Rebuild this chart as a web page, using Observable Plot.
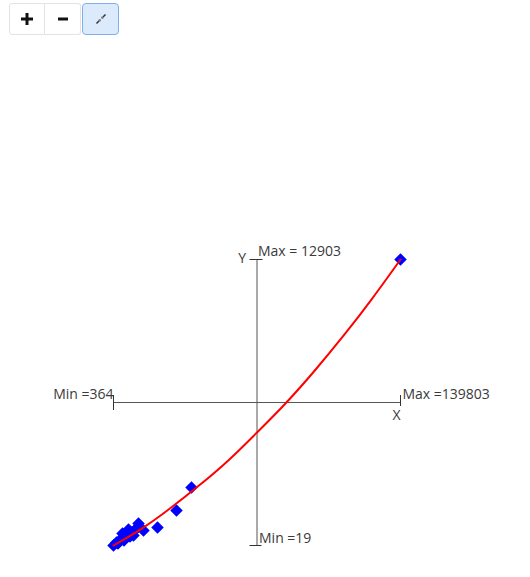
<!DOCTYPE html>
<html>
<head>
<meta charset="utf-8">
<script src="https://cdn.jsdelivr.net/npm/d3@7"></script>
<script src="https://cdn.jsdelivr.net/npm/@observablehq/plot@0.6"></script>
<style>
  html, body { margin: 0; padding: 0; background: #fff; }
  body { width: 530px; height: 577px; position: relative; overflow: hidden; font-family: "Open Sans", "Noto Sans", sans-serif; }
  #chart { position: absolute; left: 0; top: 0; }
  #toolbar { position: absolute; left: 9px; top: 3px; display: flex; }
  #toolbar .b { width: 36px; height: 32px; box-sizing: border-box; display: flex; align-items: center; justify-content: center; background: #fff; border: 1px solid #e3e3e3; font-size: 20px; font-weight: bold; color: #111; }
  #toolbar .b1 { border-radius: 3px 0 0 3px; }
  #toolbar .b2 { border-left: none; border-radius: 0 3px 3px 0; }
  #toolbar .b3 { margin-left: 1px; width: 37px; height: 32px; background: #dcebfc; border: 1.5px solid #7fb0ee; border-radius: 4px; }
</style>
</head>
<body>
<div id="toolbar">
  <div class="b b1"><svg width="14" height="14" viewBox="0 0 14 14"><path d="M7 1V13M1 7H13" stroke="#111" stroke-width="3"/></svg></div>
  <div class="b b2"><svg width="14" height="14" viewBox="0 0 14 14"><path d="M2 7H12" stroke="#111" stroke-width="3"/></svg></div>
  <div class="b b3"><svg width="14" height="14" viewBox="0 0 14 14"><path d="M2.5 11.5L5.2 8.8M8.8 5.2L11.5 2.5" stroke="#333" stroke-width="1.5"/><path d="M6.6 7.4L4.4 7.4L6.6 9.6Z M7.4 6.6L9.6 6.6L7.4 4.4Z" fill="#333"/></svg></div>
</div>
<div id="chart"></div>
<script>
// Range extremes shown as axis labels
const xMin = 364, xMax = 139803;
const yMin = 19, yMax = 12903;

// Scatter points
const pointX = [364, 1820, 2550, 3280, 4740, 4740, 5460, 6190, 7650, 7650, 8380, 9110, 10080, 10570, 12020, 12510, 14940, 21740, 30970, 38260, 139803];
const pointY = [19, 154, 110, 244, 334, 560, 245, 424, 515, 740, 420, 605, 470, 695, 830, 1010, 695, 830, 1596, 2632, 12903];

// Trend curve samples
const trendX = [364, 14310, 28250, 42200, 56140, 70080, 84030, 97970, 111920, 125860, 139803];
const trendY = [19, 790, 1716, 2740, 3852, 5110, 6429, 7880, 9446, 11120, 12903];

const points = pointX.map((x, i) => ({x, y: pointY[i]}));
const trend = trendX.map((x, i) => ({x, y: trendY[i]}));
const xMid = (xMin + xMax) / 2, yMid = (yMin + yMax) / 2;

const textColor = "#3a3a3a", axisColor = "#555";
const font = {fontSize: 14, fill: textColor, fontFamily: "'Open Sans', 'Noto Sans', sans-serif"};

const chart = Plot.plot({
  width: 530, height: 577,
  marginLeft: 113, marginRight: 130, marginTop: 259, marginBottom: 32,
  x: {domain: [xMin, xMax], axis: null},
  y: {domain: [yMin, yMax], axis: null},
  style: {background: "transparent", overflow: "visible"},
  marks: [
    // Axis lines crossing at the centre
    Plot.ruleY([yMid], {x1: xMin, x2: xMax, stroke: axisColor, strokeWidth: 1}),
    Plot.ruleX([xMid], {y1: yMin, y2: yMax, stroke: axisColor, strokeWidth: 1}),
    // End ticks
    Plot.ruleX([xMin], {y1: yMid, y2: yMid, insetTop: -7, insetBottom: -8, stroke: "#333", strokeWidth: 1}),
    Plot.ruleX([xMax], {y1: yMid, y2: yMid, insetTop: -7, insetBottom: -4, stroke: "#333", strokeWidth: 1}),
    Plot.ruleY([yMax], {x1: xMid, x2: xMid, insetLeft: -7, insetRight: -6, stroke: "#333", strokeWidth: 1}),
    Plot.ruleY([yMin], {x1: xMid, x2: xMid, insetLeft: -7, insetRight: -5, stroke: "#333", strokeWidth: 1}),
    // Labels
    Plot.text([{x: xMin, y: yMid, t: `Min =${xMin}`}], {x: "x", y: "y", text: "t", textAnchor: "end", dx: 0, dy: -8, ...font}),
    Plot.text([{x: xMax, y: yMid, t: `Max =${xMax}`}], {x: "x", y: "y", text: "t", textAnchor: "start", dx: 2, dy: -8, ...font}),
    Plot.text([{x: xMax, y: yMid, t: "X"}], {x: "x", y: "y", text: "t", textAnchor: "middle", dx: -4, dy: 13, ...font}),
    Plot.text([{x: xMid, y: yMax, t: "Y"}], {x: "x", y: "y", text: "t", textAnchor: "end", dx: -11, dy: -1, ...font}),
    Plot.text([{x: xMid, y: yMax, t: `Max = ${yMax}`}], {x: "x", y: "y", text: "t", textAnchor: "start", dx: 1, dy: -8, ...font}),
    Plot.text([{x: xMid, y: yMin, t: `Min =${yMin}`}], {x: "x", y: "y", text: "t", textAnchor: "start", dx: 2, dy: -7, ...font}),
    // Points
    Plot.dot(points, {x: "x", y: "y", symbol: "square", r: 5, rotate: 45, fill: "#0000ff", stroke: "none"}),
    // Trend curve
    Plot.line(trend, {x: "x", y: "y", curve: "natural", stroke: "#ff0000", strokeWidth: 2})
  ]
});
document.getElementById("chart").appendChild(chart);
</script>
</body>
</html>
